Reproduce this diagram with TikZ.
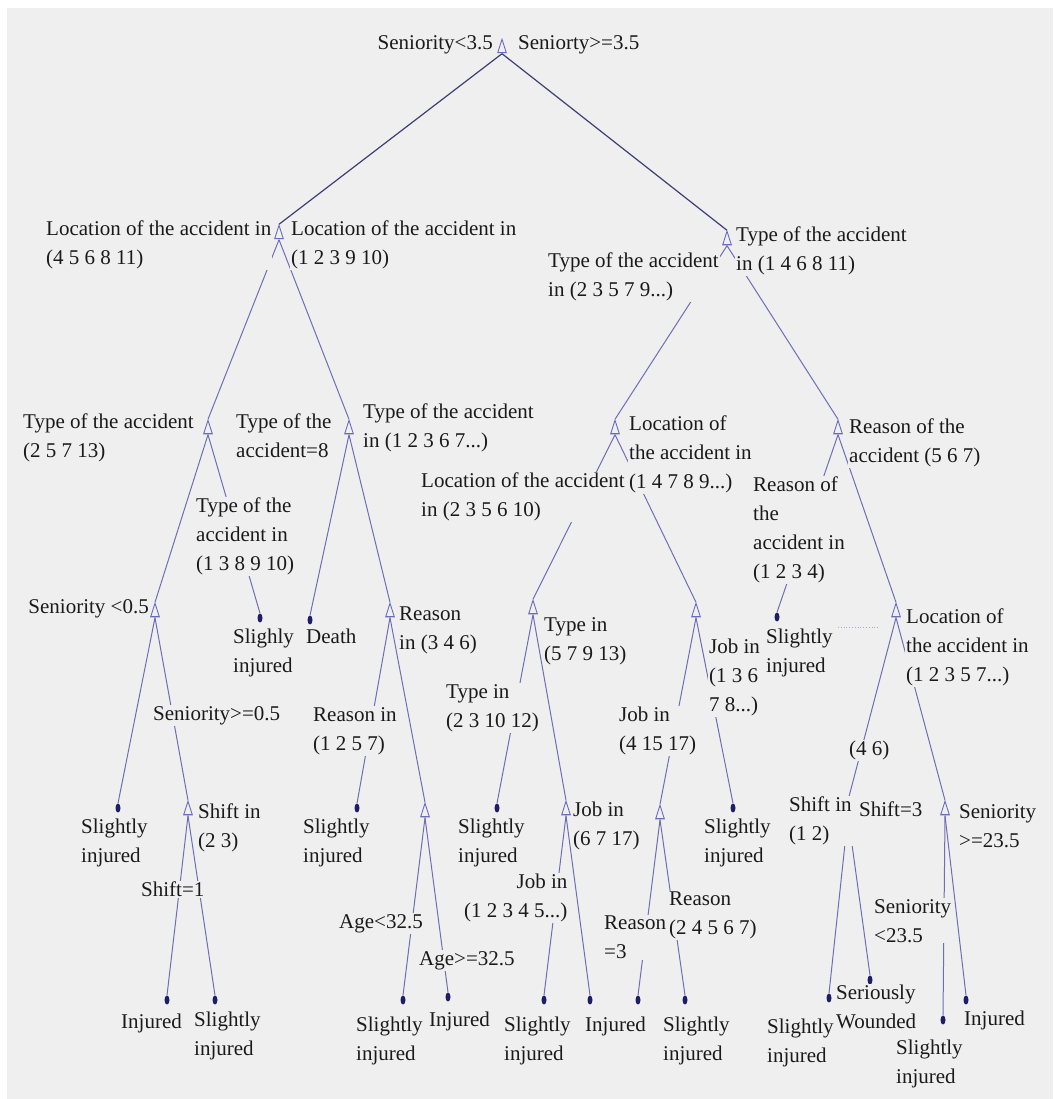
\documentclass[tikz,border=0pt]{standalone}
\usepackage{fontspec}
\setmainfont{Liberation Serif}
\usetikzlibrary{shapes.geometric}
\definecolor{panel}{HTML}{EFEFEF}
\definecolor{edgedark}{HTML}{3E3E74}
\definecolor{edgelight}{HTML}{6E6EB6}
\definecolor{splitc}{HTML}{6A6AC0}
\definecolor{leafc}{HTML}{1E1E66}
\definecolor{inkc}{HTML}{1A1A1A}
\begin{document}
\begin{tikzpicture}[x=1pt,y=-1pt,
  splitnode/.style={rectangle, minimum width=10pt, minimum height=15pt, inner sep=0pt,
    path picture={\draw[splitc, line width=0.9pt]
      ([xshift=0.7pt,yshift=0.7pt]path picture bounding box.south west) --
      ([yshift=-0.7pt]path picture bounding box.north) --
      ([xshift=-0.7pt,yshift=0.7pt]path picture bounding box.south east) -- cycle;
      \draw[splitc, line width=1.6pt]
      ([xshift=1pt,yshift=1pt]path picture bounding box.south west) --
      ([xshift=-1pt,yshift=1pt]path picture bounding box.south east);}},
  leafnode/.style={ellipse, fill=leafc, minimum width=5pt, minimum height=9pt, inner sep=0pt},
  lab/.style={anchor=north west, align=left, inner sep=1pt, fill=panel, text=inkc,
    font=\fontsize{21}{29}\selectfont},
  labr/.style={lab, anchor=north east, align=right},
  edge/.style={draw=edgelight, line width=1pt},
  topedge/.style={draw=edgedark, line width=1.2pt}]

% page and panel
\fill[white] (0,0) rectangle (1053,1099);
\fill[panel] (7,8) rectangle (1053,1099);

% split nodes
\node[splitnode] (R) at (502,46) {};
\node[splitnode] (A) at (279,232) {};
\node[splitnode] (B) at (727,238) {};
\node[splitnode] (C) at (208,427) {};
\node[splitnode] (D) at (349,427) {};
\node[splitnode] (E) at (615,427) {};
\node[splitnode] (F) at (838,427) {};
\node[splitnode] (G) at (155,610) {};
\node[splitnode] (J) at (390,610) {};
\node[splitnode] (K) at (533,607) {};
\node[splitnode] (L) at (696,610) {};
\node[splitnode] (N) at (896,610) {};
\node[splitnode] (P) at (188,808) {};
\node[splitnode] (Ra) at (425,810) {};
\node[splitnode] (T) at (566,808) {};
\node[splitnode] (U) at (660,812) {};
\node[splitnode] (W) at (848,808) {};
\node[splitnode] (X) at (945,808) {};

% leaf nodes
\node[leafnode] (H) at (260,618) {};
\node[leafnode] (I) at (310,620) {};
\node[leafnode] (M) at (777,617) {};
\node[leafnode] (O) at (118,808) {};
\node[leafnode] (Q) at (357,808) {};
\node[leafnode] (S) at (497,808) {};
\node[leafnode] (V) at (733,808) {};
\node[leafnode] (P1) at (167,1000) {};
\node[leafnode] (P2) at (215,1000) {};
\node[leafnode] (R1) at (403,1000) {};
\node[leafnode] (R2) at (448,997) {};
\node[leafnode] (T1) at (544,1000) {};
\node[leafnode] (T2) at (590,1000) {};
\node[leafnode] (U1) at (638,1000) {};
\node[leafnode] (U2) at (685,1000) {};
\node[leafnode] (W1) at (829,998) {};
\node[leafnode] (W2) at (870,980) {};
\node[leafnode] (X1) at (943,1020) {};
\node[leafnode] (X2) at (966,1000) {};

% branches
\draw[topedge] (R.south) -- (A.north);
\draw[topedge] (R.south) -- (B.north);
\foreach \p/\c in {A/C, A/D, B/E, B/F, C/G, C/H, D/I, D/J, E/K, E/L, F/M, F/N,
  G/O, G/P, J/Q, J/Ra, K/S, K/T, L/U, L/V, N/W, N/X,
  P/P1, P/P2, Ra/R1, Ra/R2, T/T1, T/T2, U/U1, U/U2, W/W1, W/W2, X/X1, X/X2}
  \draw[edge] (\p.south) -- (\c.north);

% dotted mark between the two subtrees
\coordinate (d1) at (838,627);
\coordinate (d2) at (880,627);
\draw[edgelight!60, dotted, line width=0.8pt] (d1) -- (d2);

% split labels
\node[labr] (lR1) at (494,34) {Seniority<3.5};
\node[lab] (lR2) at (517,34) {Seniorty>=3.5};
\node[lab] (lA1) at (45,220) {Location of the accident in\\(4 5 6 8 11)};
\node[lab] (lA2) at (290,220) {Location of the accident in\\(1 2 3 9 10)};
\node[lab] (lB2) at (735,226) {Type of the accident\\in (1 4 6 8 11)};
\node[lab] (lB1) at (547,252) {Type of the accident\\in (2 3 5 7 9...)};
\node[lab] (lC1) at (22,413) {Type of the accident\\(2 5 7 13)};
\node[lab] (lC2) at (195,497) {Type of the\\accident in\\(1 3 8 9 10)};
\node[lab] (lD1) at (235,413) {Type of the\\accident=8};
\node[lab] (lD2) at (362,403) {Type of the accident\\in (1 2 3 6 7...)};
\node[lab] (lE2) at (628,415) {Location of\\the accident in\\(1 4 7 8 9...)};
\node[lab] (lE1) at (420,472) {Location of the accident\\in (2 3 5 6 10)};
\node[lab] (lF2) at (848,418) {Reason of the\\accident (5 6 7)};
\node[lab] (lF1) at (752,476) {Reason of\\the\\accident in\\(1 2 3 4)};
\node[labr] (lG1) at (150,598) {Seniority <0.5};
\node[lab] (lG2) at (152,705) {Seniority>=0.5};
\node[lab] (lJ2) at (398,606) {Reason\\in (3 4 6)};
\node[lab] (lJ1) at (312,706) {Reason in\\(1 2 5 7)};
\node[lab] (lK2) at (543,616) {Type in\\(5 7 9 13)};
\node[lab] (lK1) at (445,683) {Type in\\(2 3 10 12)};
\node[lab] (lL2) at (708,638) {Job in\\(1 3 6\\7 8...)};
\node[lab] (lL1) at (618,706) {Job in\\(4 15 17)};
\node[lab] (lN2) at (905,608) {Location of\\the accident in\\(1 2 3 5 7...)};
\node[lab] (lN1) at (848,740) {(4 6)};
\node[lab] (lP2) at (197,803) {Shift in\\(2 3)};
\node[lab] (lP1) at (140,881) {Shift=1};
\node[lab] (lRa1) at (338,913) {Age<32.5};
\node[lab] (lRa2) at (418,950) {Age>=32.5};
\node[lab] (lT2) at (572,801) {Job in\\(6 7 17)};
\node[lab, align=right] (lT1) at (463,873) {Job in\\(1 2 3 4 5...)};
\node[lab] (lU1) at (603,915) {Reason\\=3};
\node[lab] (lU2) at (668,891) {Reason\\(2 4 5 6 7)};
\node[lab] (lW1) at (788,796) {Shift in\\(1 2)};
\node[lab] (lW2) at (858,801) {Shift=3};
\node[lab] (lX2) at (958,803) {Seniority\\>=23.5};
\node[lab] (lX1) at (873,898) {Seniority\\<23.5};

% leaf labels
\node[lab] (lH) at (232,628) {Slighly\\injured};
\node[lab] (lI) at (305,628) {Death};
\node[lab] (lM) at (765,628) {Slightly\\injured};
\node[lab] (lO) at (80,818) {Slightly\\injured};
\node[lab] (lQ) at (302,818) {Slightly\\injured};
\node[lab] (lS) at (457,818) {Slightly\\injured};
\node[lab] (lV) at (703,818) {Slightly\\injured};
\node[lab] (lP1) at (120,1013) {Injured};
\node[lab] (lP2) at (193,1011) {Slightly\\injured};
\node[lab] (lR1) at (355,1016) {Slightly\\injured};
\node[lab] (lR2) at (428,1011) {Injured};
\node[lab] (lT1l) at (503,1016) {Slightly\\injured};
\node[lab] (lT2l) at (584,1016) {Injured};
\node[lab] (lU2l) at (662,1016) {Slightly\\injured};
\node[lab] (lW1l) at (766,1018) {Slightly\\injured};
\node[lab] (lW2l) at (835,984) {Seriously\\Wounded};
\node[lab] (lX1l) at (895,1039) {Slightly\\injured};
\node[lab] (lX2l) at (963,1010) {Injured};
\end{tikzpicture}
\end{document}
